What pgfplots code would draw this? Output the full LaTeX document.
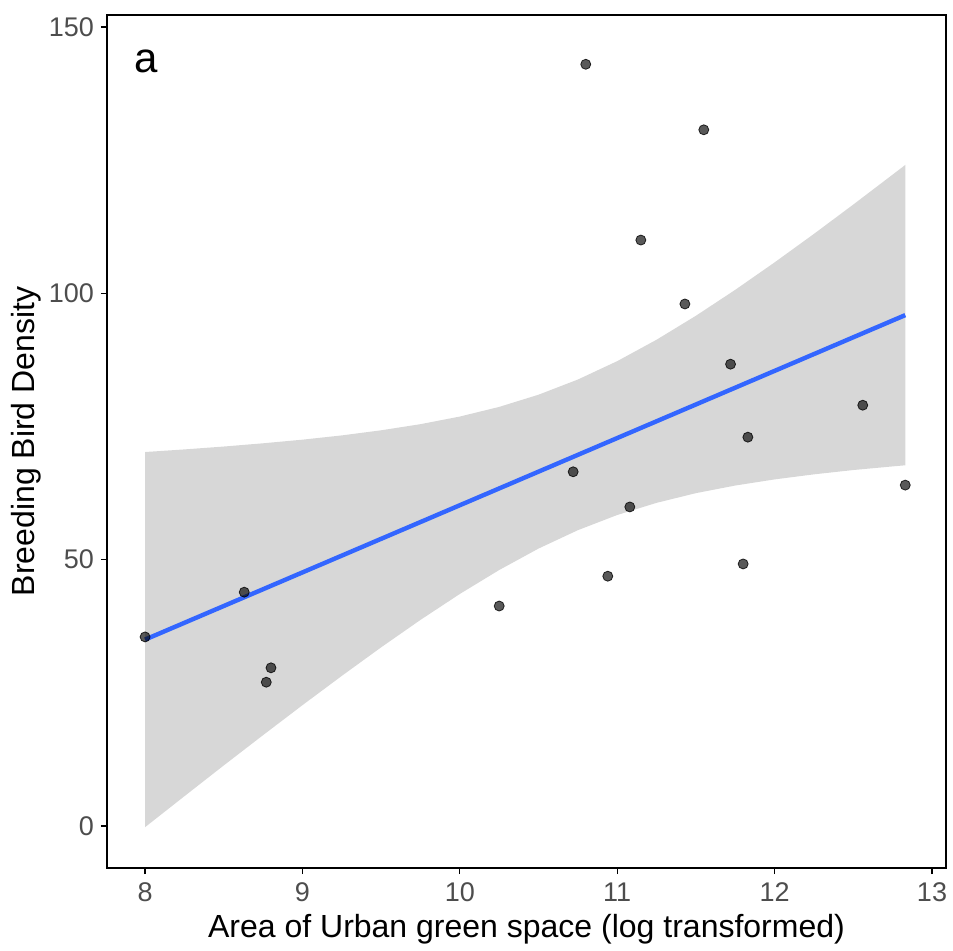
\documentclass[border=0pt]{standalone}
\usepackage{pgfplots}
\pgfplotsset{compat=1.18}
\usepgfplotslibrary{fillbetween}
\usepackage{fontspec}
\setmainfont{Liberation Sans}
\definecolor{ribbon}{RGB}{215,215,215}
\definecolor{smoothblue}{HTML}{3366FF}
\definecolor{ticklab}{RGB}{77,77,77}
\begin{document}
\begin{tikzpicture}
\begin{axis}[
  scale only axis,
  width=419.5pt, height=426.5pt,
  xmin=7.758, xmax=13.089,
  ymin=-7.88, ymax=152.25,
  xtick={8,9,10,11,12,13},
  ytick={0,50,100,150},
  tick align=outside,
  major tick length=3pt,
  tick style={black, line width=0.6pt},
  axis line style={black, line width=0.6pt},
  xtick pos=bottom, ytick pos=left,
  /pgf/number format/assume math mode=true,
  ticklabel style={font=\fontsize{13.5}{15}\selectfont, text=ticklab},
  xticklabel style={yshift=-1pt},
  label style={font=\fontsize{16}{19}\selectfont},
  xlabel={Area of Urban green space (log transformed)},
  ylabel={Breeding Bird Density},
  xlabel style={yshift=1pt},
  ylabel style={yshift=-3pt},
  clip=true,
]
\addplot[name path=upper, draw=none, forget plot] coordinates {
(8.00,70.21) (8.25,70.70) (8.50,71.24) (8.75,71.85) (9.00,72.53) (9.25,73.33)
(9.50,74.29) (9.75,75.44) (10.00,76.87) (10.25,78.68) (10.50,80.97) (10.75,83.82)
(11.00,87.27) (11.25,91.29) (11.50,95.79) (11.75,100.66) (12.00,105.81) (12.25,111.16)
(12.50,116.67) (12.75,122.29) (12.83,124.10)};
\addplot[name path=lower, draw=none, forget plot] coordinates {
(8.00,-0.21) (8.25,5.60) (8.50,11.38) (8.75,17.07) (9.00,22.69) (9.25,28.19)
(9.50,33.55) (9.75,38.70) (10.00,43.57) (10.25,48.06) (10.50,52.09) (10.75,55.54)
(11.00,58.39) (11.25,60.67) (11.50,62.49) (11.75,63.92) (12.00,65.07) (12.25,66.02)
(12.50,66.83) (12.75,67.51) (12.83,67.72)};
\addplot[fill=ribbon, draw=none] fill between[of=upper and lower];
\addplot[only marks, mark=*, mark size=2.5pt, mark options={fill=black, draw=black, fill opacity=0.65, draw opacity=0.8}] coordinates {
(8.00,35.5) (8.63,43.9) (8.80,29.7) (8.77,27.0) (10.25,41.3) (10.72,66.5)
(10.80,143.0) (10.94,46.9) (11.08,59.9) (11.15,110.0) (11.43,98.0) (11.55,130.7)
(11.72,86.7) (11.80,49.2) (11.83,73.0) (12.56,79.0) (12.83,64.0)};
\addplot[color=smoothblue, line width=2.2pt] coordinates {(8.00,35.0) (12.83,95.91)};
\node[anchor=base west, font=\fontsize{21}{24}\selectfont, inner sep=0pt] at (axis cs:7.93,141.5) {a};
\end{axis}
\pgfresetboundingbox
\path ([shift={(-53.5pt,-41pt)}]current axis.south west) rectangle ([shift={(3.5pt,7.5pt)}]current axis.north east);
\end{tikzpicture}
\end{document}
